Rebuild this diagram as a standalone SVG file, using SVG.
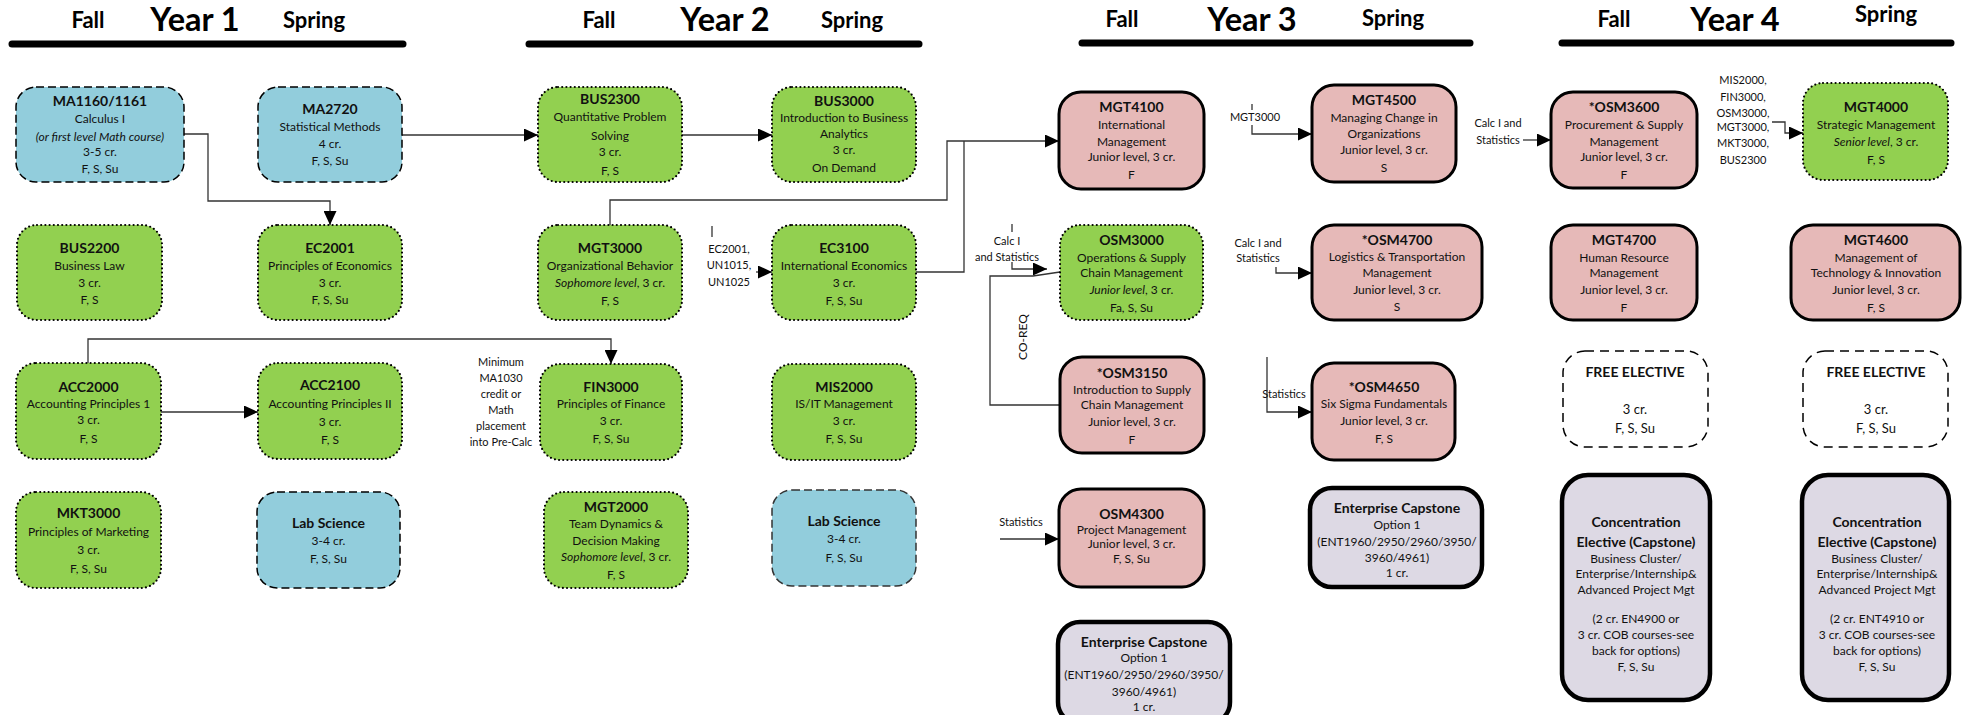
<svg xmlns="http://www.w3.org/2000/svg" width="1973" height="715" viewBox="0 0 1973 715">
<style>
.t{font-family:Lato,"Liberation Sans",sans-serif;font-size:12px;text-anchor:middle;fill:#111}
.b{font-weight:bold;font-size:14px}
.i{font-style:italic}
.lbl{font-size:11px}
.hd{font-family:Lato,"Liberation Sans",sans-serif;font-weight:bold;font-size:22px;text-anchor:middle;fill:#000}
.yr{font-size:32.5px}
.hl{stroke:#000;stroke-width:7;stroke-linecap:round}
.blue{fill:#92CDDC;stroke:#000;stroke-width:1.5;stroke-dasharray:8 4}
.green{fill:#92D050;stroke:#000;stroke-width:2.2;stroke-dasharray:0 4.2;stroke-linecap:round}
.pink{fill:#E6B9B8;stroke:#000;stroke-width:3}
.lav{fill:#DDD9E4;stroke:#000;stroke-width:4.5}
.free{fill:#fff;stroke:#000;stroke-width:1.5;stroke-dasharray:9 6}
.conn{fill:none;stroke:#333;stroke-width:1.3}
</style>
<defs>
<marker id="ah" viewBox="0 0 14 13" refX="14" refY="6.5" markerWidth="14" markerHeight="13" markerUnits="userSpaceOnUse" orient="auto"><path d="M0,0 L14,6.5 L0,13 z" fill="#000"/></marker>
</defs>
<rect width="1973" height="715" fill="#fff"/>

<g id="headers">
<text class="hd" x="88" y="28">Fall</text><text class="hd yr" x="195" y="31">Year 1</text><text class="hd" x="314" y="28">Spring</text>
<line class="hl" x1="12" y1="44" x2="403" y2="44"/>
<text class="hd" x="599" y="28">Fall</text><text class="hd yr" x="725" y="31">Year 2</text><text class="hd" x="852" y="28">Spring</text>
<line class="hl" x1="529" y1="44" x2="919" y2="44"/>
<text class="hd" x="1122" y="27">Fall</text><text class="hd yr" x="1252" y="31">Year 3</text><text class="hd" x="1393" y="26">Spring</text>
<line class="hl" x1="1082" y1="43" x2="1470" y2="43"/>
<text class="hd" x="1614" y="27">Fall</text><text class="hd yr" x="1735" y="31">Year 4</text><text class="hd" x="1886" y="22">Spring</text>
<line class="hl" x1="1562" y1="43" x2="1951" y2="43"/>
</g>

<g id="connectors">
<path class="conn" d="M184,134 H208 V201 H330 V225" marker-end="url(#ah)"/>
<path class="conn" d="M402,135 H538" marker-end="url(#ah)"/>
<path class="conn" d="M88,363 V339 H611 V364" marker-end="url(#ah)"/>
<path class="conn" d="M161,412 H258" marker-end="url(#ah)"/>
<path class="conn" d="M682,135 H772" marker-end="url(#ah)"/>
<path class="conn" d="M610,225 V200 H947 V141 H1059" marker-end="url(#ah)"/>
<path class="conn" d="M916,272 H964 V141"/>
<path class="conn" d="M712,226 V237"/>
<path class="conn" d="M756,272 H772" marker-end="url(#ah)"/>
<path class="conn" d="M1252,104 V110"/>
<path class="conn" d="M1252,125 V134 H1312" marker-end="url(#ah)"/>
<path class="conn" d="M1012,224 V232"/>
<path class="conn" d="M1012,262 V269 H1047" marker-end="url(#ah)"/>
<path class="conn" d="M1060,405 H990 V276 H1033 L1060,272"/>
<path class="conn" d="M1276,267 V273 H1312" marker-end="url(#ah)"/>
<path class="conn" d="M1267,357 V412 H1312" marker-end="url(#ah)"/>
<path class="conn" d="M1000,539 H1059" marker-end="url(#ah)"/>
<path class="conn" d="M1523,140 H1551" marker-end="url(#ah)"/>
<path class="conn" d="M1772,122 H1785 V133 H1803" marker-end="url(#ah)"/>
</g>

<g id="labels">
<text class="t lbl"><tspan x="501" y="366">Minimum</tspan><tspan x="501" y="382">MA1030</tspan><tspan x="501" y="398">credit or</tspan><tspan x="501" y="414">Math</tspan><tspan x="501" y="430">placement</tspan><tspan x="501" y="446">into Pre-Calc</tspan></text>
<text class="t lbl"><tspan x="729" y="253">EC2001,</tspan><tspan x="729" y="269">UN1015,</tspan><tspan x="729" y="286">UN1025</tspan></text>
<text class="t lbl" x="1255" y="121">MGT3000</text>
<text class="t lbl"><tspan x="1007" y="245">Calc I</tspan><tspan x="1007" y="261">and Statistics</tspan></text>
<text class="t" transform="translate(1027,337) rotate(-90)">CO-REQ</text>
<text class="t lbl"><tspan x="1258" y="247">Calc I and</tspan><tspan x="1258" y="262">Statistics</tspan></text>
<text class="t lbl" x="1284" y="398">Statistics</text>
<text class="t lbl" x="1021" y="526">Statistics</text>
<text class="t lbl"><tspan x="1498" y="127">Calc I and</tspan><tspan x="1498" y="144">Statistics</tspan></text>
<text class="t lbl"><tspan x="1743" y="84">MIS2000,</tspan><tspan x="1743" y="101">FIN3000,</tspan><tspan x="1743" y="117">OSM3000,</tspan><tspan x="1743" y="131">MGT3000,</tspan><tspan x="1743" y="147">MKT3000,</tspan><tspan x="1743" y="164">BUS2300</tspan></text>
</g>

<g id="MA1160"><rect class="blue" x="16" y="87" width="168" height="95" rx="20"/>
<text class="t b" x="100" y="106">MA1160/1161</text><text class="t" x="100" y="123">Calculus I</text><text class="t i" x="100" y="141">(or first level Math course)</text><text class="t" x="100" y="156">3-5 cr.</text><text class="t" x="100" y="173">F, S, Su</text></g>
<g id="MA2720"><rect class="blue" x="258" y="87" width="144" height="95" rx="20"/>
<text class="t b" x="330" y="114">MA2720</text><text class="t" x="330" y="131">Statistical Methods</text><text class="t" x="330" y="148">4 cr.</text><text class="t" x="330" y="165">F, S, Su</text></g>
<g id="BUS2200"><rect class="green" x="17" y="225" width="145" height="95" rx="20"/>
<text class="t b" x="89.5" y="253">BUS2200</text><text class="t" x="89.5" y="270">Business Law</text><text class="t" x="89.5" y="287">3 cr.</text><text class="t" x="89.5" y="304">F, S</text></g>
<g id="EC2001"><rect class="green" x="258" y="225" width="144" height="95" rx="20"/>
<text class="t b" x="330" y="253">EC2001</text><text class="t" x="330" y="270">Principles of Economics</text><text class="t" x="330" y="287">3 cr.</text><text class="t" x="330" y="304">F, S, Su</text></g>
<g id="ACC2000"><rect class="green" x="16" y="363" width="145" height="96" rx="20"/>
<text class="t b" x="88.5" y="392">ACC2000</text><text class="t" x="88.5" y="408">Accounting Principles 1</text><text class="t" x="88.5" y="424">3 cr.</text><text class="t" x="88.5" y="443">F, S</text></g>
<g id="ACC2100"><rect class="green" x="258" y="363" width="144" height="96" rx="20"/>
<text class="t b" x="330" y="390">ACC2100</text><text class="t" x="330" y="408">Accounting Principles II</text><text class="t" x="330" y="426">3 cr.</text><text class="t" x="330" y="444">F, S</text></g>
<g id="MKT3000"><rect class="green" x="16" y="492" width="145" height="96" rx="20"/>
<text class="t b" x="88.5" y="518">MKT3000</text><text class="t" x="88.5" y="536">Principles of Marketing</text><text class="t" x="88.5" y="554">3 cr.</text><text class="t" x="88.5" y="573">F, S, Su</text></g>
<g id="LabScience1"><rect class="blue" x="257" y="492" width="143" height="96" rx="20"/>
<text class="t b" x="328.5" y="528">Lab Science</text><text class="t" x="328.5" y="545">3-4 cr.</text><text class="t" x="328.5" y="563">F, S, Su</text></g>

<g id="BUS2300"><rect class="green" x="538" y="87" width="144" height="95" rx="20"/>
<text class="t b" x="610" y="104">BUS2300</text><text class="t" x="610" y="121">Quantitative Problem</text><text class="t" x="610" y="140">Solving</text><text class="t" x="610" y="156">3 cr.</text><text class="t" x="610" y="175">F, S</text></g>
<g id="BUS3000"><rect class="green" x="772" y="87" width="144" height="95" rx="20"/>
<text class="t b" x="844" y="106">BUS3000</text><text class="t" x="844" y="122">Introduction to Business</text><text class="t" x="844" y="138">Analytics</text><text class="t" x="844" y="154">3 cr.</text><text class="t" x="844" y="172">On Demand</text></g>
<g id="MGT3000"><rect class="green" x="538" y="225" width="144" height="95" rx="20"/>
<text class="t b" x="610" y="253">MGT3000</text><text class="t" x="610" y="270">Organizational Behavior</text><text class="t" x="610" y="287"><tspan class="i">Sophomore level</tspan>, 3 cr.</text><text class="t" x="610" y="305">F, S</text></g>
<g id="EC3100"><rect class="green" x="772" y="225" width="144" height="95" rx="20"/>
<text class="t b" x="844" y="253">EC3100</text><text class="t" x="844" y="270">International Economics</text><text class="t" x="844" y="287">3 cr.</text><text class="t" x="844" y="305">F, S, Su</text></g>
<g id="FIN3000"><rect class="green" x="540" y="364" width="142" height="96" rx="20"/>
<text class="t b" x="611" y="392">FIN3000</text><text class="t" x="611" y="408">Principles of Finance</text><text class="t" x="611" y="425">3 cr.</text><text class="t" x="611" y="443">F, S, Su</text></g>
<g id="MIS2000"><rect class="green" x="772" y="364" width="144" height="96" rx="20"/>
<text class="t b" x="844" y="392">MIS2000</text><text class="t" x="844" y="408">IS/IT Management</text><text class="t" x="844" y="425">3 cr.</text><text class="t" x="844" y="443">F, S, Su</text></g>
<g id="MGT2000"><rect class="green" x="544" y="492" width="144" height="96" rx="20"/>
<text class="t b" x="616" y="512">MGT2000</text><text class="t" x="616" y="528">Team Dynamics &amp;</text><text class="t" x="616" y="545">Decision Making</text><text class="t" x="616" y="561"><tspan class="i">Sophomore level</tspan>, 3 cr.</text><text class="t" x="616" y="579">F, S</text></g>
<g id="LabScience2"><rect class="blue" x="772" y="490" width="144" height="96" rx="20" style="stroke:#333"/>
<text class="t b" x="844" y="526">Lab Science</text><text class="t" x="844" y="543">3-4 cr.</text><text class="t" x="844" y="562">F, S, Su</text></g>

<g id="MGT4100"><rect class="pink" x="1059" y="92" width="145" height="97" rx="22"/>
<text class="t b" x="1131.5" y="112">MGT4100</text><text class="t" x="1131.5" y="129">International</text><text class="t" x="1131.5" y="146">Management</text><text class="t" x="1131.5" y="161">Junior level, 3 cr.</text><text class="t" x="1131.5" y="179">F</text></g>
<g id="MGT4500"><rect class="pink" x="1312" y="85" width="144" height="97" rx="22"/>
<text class="t b" x="1384" y="105">MGT4500</text><text class="t" x="1384" y="122">Managing Change in</text><text class="t" x="1384" y="138">Organizations</text><text class="t" x="1384" y="154">Junior level, 3 cr.</text><text class="t" x="1384" y="172">S</text></g>
<g id="OSM3000"><rect class="green" x="1060" y="225" width="143" height="95" rx="20"/>
<text class="t b" x="1131.5" y="245">OSM3000</text><text class="t" x="1131.5" y="262">Operations &amp; Supply</text><text class="t" x="1131.5" y="277">Chain Management</text><text class="t" x="1131.5" y="294"><tspan class="i">Junior level</tspan>, 3 cr.</text><text class="t" x="1131.5" y="312">Fa, S,  Su</text></g>
<g id="OSM4700"><rect class="pink" x="1312" y="225" width="170" height="95" rx="22"/>
<text class="t b" x="1397" y="245">*OSM4700</text><text class="t" x="1397" y="261">Logistics &amp; Transportation</text><text class="t" x="1397" y="277">Management</text><text class="t" x="1397" y="294">Junior level, 3 cr.</text><text class="t" x="1397" y="311">S</text></g>
<g id="OSM3150"><rect class="pink" x="1060" y="357" width="144" height="96" rx="22"/>
<text class="t b" x="1132" y="378">*OSM3150</text><text class="t" x="1132" y="394">Introduction to Supply</text><text class="t" x="1132" y="409">Chain Management</text><text class="t" x="1132" y="426">Junior level, 3 cr.</text><text class="t" x="1132" y="444">F</text></g>
<g id="OSM4650"><rect class="pink" x="1312" y="363" width="143" height="97" rx="22"/>
<text class="t b" x="1384" y="392">*OSM4650</text><text class="t" x="1384" y="408">Six Sigma Fundamentals</text><text class="t" x="1384" y="425">Junior level, 3 cr.</text><text class="t" x="1384" y="443">F, S</text></g>
<g id="OSM4300"><rect class="pink" x="1059" y="489" width="145" height="98" rx="22"/>
<text class="t b" x="1131.5" y="519">OSM4300</text><text class="t" x="1131.5" y="534">Project Management</text><text class="t" x="1131.5" y="548">Junior level, 3 cr.</text><text class="t" x="1131.5" y="563">F, S, Su</text></g>
<g id="Capstone3F"><rect class="lav" x="1058" y="622" width="172" height="102" rx="22"/>
<text class="t b" x="1144" y="647">Enterprise Capstone</text><text class="t" x="1144" y="662">Option 1</text><text class="t" x="1144" y="679">(ENT1960/2950/2960/3950/</text><text class="t" x="1144" y="696">3960/4961)</text><text class="t" x="1144" y="711">1 cr.</text></g>
<g id="Capstone3S"><rect class="lav" x="1310" y="488" width="172" height="99" rx="22"/>
<text class="t b" x="1397" y="513">Enterprise Capstone</text><text class="t" x="1397" y="529">Option 1</text><text class="t" x="1397" y="546">(ENT1960/2950/2960/3950/</text><text class="t" x="1397" y="562">3960/4961)</text><text class="t" x="1397" y="577">1 cr.</text></g>

<g id="OSM3600"><rect class="pink" x="1551" y="92" width="146" height="96" rx="22"/>
<text class="t b" x="1624" y="112">*OSM3600</text><text class="t" x="1624" y="129">Procurement &amp; Supply</text><text class="t" x="1624" y="146">Management</text><text class="t" x="1624" y="161">Junior level, 3 cr.</text><text class="t" x="1624" y="179">F</text></g>
<g id="MGT4000"><rect class="green" x="1803" y="83" width="145" height="97" rx="20"/>
<text class="t b" x="1876" y="112">MGT4000</text><text class="t" x="1876" y="129">Strategic Management</text><text class="t" x="1876" y="146"><tspan class="i">Senior level</tspan>, 3 cr.</text><text class="t" x="1876" y="164">F, S</text></g>
<g id="MGT4700"><rect class="pink" x="1551" y="225" width="146" height="95" rx="22"/>
<text class="t b" x="1624" y="245">MGT4700</text><text class="t" x="1624" y="262">Human Resource</text><text class="t" x="1624" y="277">Management</text><text class="t" x="1624" y="294">Junior level, 3 cr.</text><text class="t" x="1624" y="312">F</text></g>
<g id="MGT4600"><rect class="pink" x="1791" y="225" width="169" height="95" rx="22"/>
<text class="t b" x="1876" y="245">MGT4600</text><text class="t" x="1876" y="262">Management of</text><text class="t" x="1876" y="277">Technology &amp; Innovation</text><text class="t" x="1876" y="294">Junior level, 3 cr.</text><text class="t" x="1876" y="312">F, S</text></g>
<g id="FreeElective1"><rect class="free" x="1563" y="351" width="145" height="96" rx="22"/>
<text class="t b" x="1635" y="377">FREE ELECTIVE</text><text class="t" x="1635" y="414" style="font-size:13px">3 cr.</text><text class="t" x="1635" y="433" style="font-size:13px">F, S, Su</text></g>
<g id="FreeElective2"><rect class="free" x="1803" y="351" width="145" height="96" rx="22"/>
<text class="t b" x="1876" y="377">FREE ELECTIVE</text><text class="t" x="1876" y="414" style="font-size:13px">3 cr.</text><text class="t" x="1876" y="433" style="font-size:13px">F, S, Su</text></g>
<g id="Concentration1"><rect class="lav" x="1562" y="475" width="148" height="225" rx="26"/>
<text class="t b" x="1636" y="527">Concentration</text><text class="t b" x="1636" y="547">Elective (Capstone)</text><text class="t" x="1636" y="563">Business Cluster/</text><text class="t" x="1636" y="578">Enterprise/Internship&amp;</text><text class="t" x="1636" y="594">Advanced Project Mgt</text><text class="t" x="1636" y="623">(2 cr. EN4900 or</text><text class="t" x="1636" y="639">3 cr. COB courses-see</text><text class="t" x="1636" y="655">back for options)</text><text class="t" x="1636" y="671">F, S, Su</text></g>
<g id="Concentration2"><rect class="lav" x="1802" y="475" width="147" height="225" rx="26"/>
<text class="t b" x="1877" y="527">Concentration</text><text class="t b" x="1877" y="547">Elective (Capstone)</text><text class="t" x="1877" y="563">Business Cluster/</text><text class="t" x="1877" y="578">Enterprise/Internship&amp;</text><text class="t" x="1877" y="594">Advanced Project Mgt</text><text class="t" x="1877" y="623">(2 cr. ENT4910 or</text><text class="t" x="1877" y="639">3 cr. COB courses-see</text><text class="t" x="1877" y="655">back for options)</text><text class="t" x="1877" y="671">F, S, Su</text></g>
</svg>
